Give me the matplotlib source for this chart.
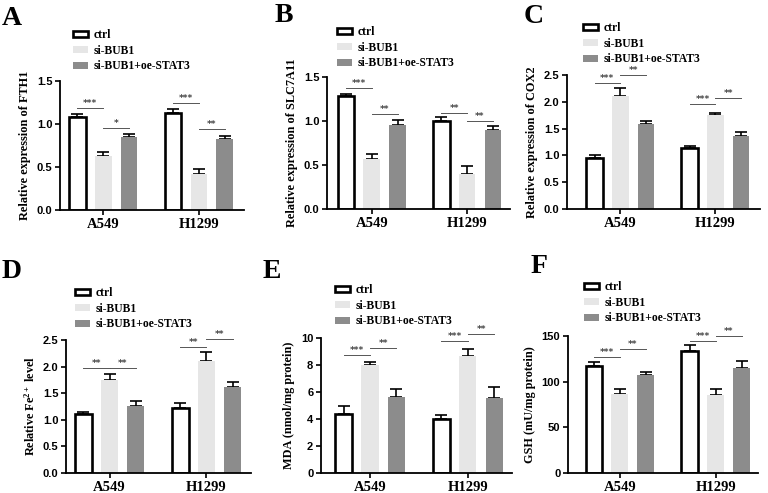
import matplotlib
matplotlib.use('Agg')
import matplotlib.pyplot as plt
import numpy as np

# data
cells = ['A549', 'H1299']
groups = ['ctrl', 'si-BUB1', 'si-BUB1+oe-STAT3']

fth1 = [[1.08, 0.63, 0.85], [1.13, 0.42, 0.83]]
fth1_err = [[0.04, 0.04, 0.03], [0.04, 0.06, 0.035]]
slc7a11 = [[1.28, 0.57, 0.96], [1.00, 0.40, 0.895]]
slc7a11_err = [[0.03, 0.05, 0.05], [0.04, 0.09, 0.045]]
cox2 = [[0.95, 2.10, 1.59], [1.13, 1.75, 1.36]]
cox2_err = [[0.06, 0.16, 0.05], [0.05, 0.04, 0.07]]
fe = [[1.10, 1.75, 1.26], [1.23, 2.10, 1.62]]
fe_err = [[0.05, 0.12, 0.09], [0.09, 0.17, 0.09]]
mda = [[4.40, 8.02, 5.63], [4.02, 8.67, 5.58]]
mda_err = [[0.56, 0.2, 0.57], [0.3, 0.54, 0.79]]
gsh = [[117, 86, 107], [134, 85, 115]]
gsh_err = [[5, 6.5, 4], [6.5, 7, 8]]

# significance: (cell index, bar i, bar j, height, label)
sig_A = [(0, 0, 1, 1.19, '***'), (0, 1, 2, 0.95, '*'), (1, 0, 1, 1.24, '***'), (1, 1, 2, 0.94, '**')]
sig_B = [(0, 0, 1, 1.37, '***'), (0, 1, 2, 1.08, '**'), (1, 0, 1, 1.09, '**'), (1, 1, 2, 1.00, '**')]
sig_C = [(0, 0, 1, 2.36, '***'), (0, 1, 2, 2.50, '**'), (1, 0, 1, 1.95, '***'), (1, 1, 2, 2.08, '**')]
sig_D = [(0, 0, 1, 1.97, '**'), (0, 1, 2, 1.97, '**'), (1, 0, 1, 2.36, '**'), (1, 1, 2, 2.51, '**')]
sig_E = [(0, 0, 1, 8.72, '***'), (0, 1, 2, 9.26, '**'), (1, 0, 1, 9.8, '***'), (1, 1, 2, 10.3, '**')]
sig_F = [(0, 0, 1, 126.6, '***'), (0, 1, 2, 135.4, '**'), (1, 0, 1, 144, '***'), (1, 1, 2, 150, '**')]

colors = ['white', '#e6e6e6', '#8c8c8c']
W, H = 768, 493

serif = 'Liberation Serif'
sans = 'Liberation Sans'
plt.rcParams['mathtext.fontset'] = 'custom'
plt.rcParams['mathtext.rm'] = 'Liberation Serif:bold'
plt.rcParams['mathtext.it'] = 'Liberation Serif:bold'
plt.rcParams['mathtext.bf'] = 'Liberation Serif:bold'

fig = plt.figure(figsize=(7.68, 4.93), dpi=100)

def draw_panel(letter, vals, errs, sigs, ylabel, yticks, box, xlim, leg_xy, let_xy):
    x0, x1, ytop, ybot = box
    ax = fig.add_axes([x0 / W, 1 - ybot / H, (x1 - x0) / W, (ybot - ytop) / H])
    vals = np.array(vals)
    errs = np.array(errs)
    xc = np.arange(len(cells))
    off = 0.27
    bw = 0.175
    for g in range(3):
        xs = xc + (g - 1) * off
        ax.bar(xs, vals[:, g], bw, color=colors[g],
               edgecolor='black' if g == 0 else colors[g],
               linewidth=1.9 if g == 0 else 0, label=groups[g], zorder=2)
        ax.errorbar(xs, vals[:, g], yerr=[np.zeros(2), errs[:, g]], fmt='none',
                    ecolor='black', elinewidth=1.2, capsize=4, capthick=1.2, zorder=1)
    for c, i, j, h, lab in sigs:
        xa = c + (i - 1) * off
        xb = c + (j - 1) * off
        ax.plot([xa, xb], [h, h], color='#555555', lw=0.7, clip_on=False)
        ax.text((xa + xb) / 2, h, lab, ha='center', va='bottom', fontsize=6.5,
                color='#444444', fontweight='bold', clip_on=False)
    ax.set_ylim(yticks[0], yticks[-1])
    ax.set_yticks(yticks)
    ax.set_xlim(*xlim)
    ax.set_xticks(xc)
    ax.set_xticklabels(cells, fontsize=10.5, fontweight='bold', family=serif)
    if isinstance(yticks[1], float):
        ax.yaxis.set_major_formatter(matplotlib.ticker.FormatStrFormatter('%.1f'))
    for t in ax.get_yticklabels():
        t.set_fontfamily(sans)
        t.set_fontweight('bold')
        t.set_fontsize(8)
    ax.set_ylabel(ylabel, fontsize=8.8, fontweight='bold', family=serif, labelpad=4)
    ax.spines['top'].set_visible(False)
    ax.spines['right'].set_visible(False)
    ax.spines['left'].set_linewidth(1.3)
    ax.spines['bottom'].set_linewidth(1.3)
    ax.tick_params(width=1.2, length=3.5, pad=2)
    ax.legend(loc='upper left', bbox_to_anchor=(leg_xy[0] / W, 1 - leg_xy[1] / H),
              bbox_transform=fig.transFigure, frameon=False, borderpad=0,
              borderaxespad=0, handlelength=1.3, handleheight=0.5,
              handletextpad=0.5, labelspacing=0.32,
              prop={'family': serif, 'weight': 'bold', 'size': 8.4})
    fig.text(let_xy[0] / W, 1 - let_xy[1] / H, letter, fontsize=20,
             fontweight='bold', family=serif, va='baseline')

draw_panel('A', fth1, fth1_err, sig_A, 'Relative expression of FTH1',
           [0.0, 0.5, 1.0, 1.5], (60, 244, 81, 210), (-0.45, 1.47), (73, 29), (2, 25))
draw_panel('B', slc7a11, slc7a11_err, sig_B, 'Relative expression of SLC7A11',
           [0.0, 0.5, 1.0, 1.5], (327, 510, 77, 209), (-0.47, 1.45), (337, 26), (275, 22))
draw_panel('C', cox2, cox2_err, sig_C, 'Relative expression of COX2',
           [0.0, 0.5, 1.0, 1.5, 2.0, 2.5], (567, 760, 75, 209), (-0.56, 1.47), (583, 22), (524, 23))
draw_panel('D', fe, fe_err, sig_D, 'Relative Fe$^{2+}$ level',
           [0.0, 0.5, 1.0, 1.5, 2.0, 2.5], (66, 251, 340, 473), (-0.45, 1.46), (75, 287), (2, 278))
draw_panel('E', mda, mda_err, sig_E, 'MDA (nmol/mg protein)',
           [0, 2, 4, 6, 8, 10], (321, 512, 338, 473), (-0.5, 1.45), (335, 284), (263, 278))
draw_panel('F', gsh, gsh_err, sig_F, 'GSH (mU/mg protein)',
           [0, 50, 100, 150], (568, 758, 336, 473), (-0.54, 1.44), (584, 281), (531, 273))

fig.savefig('out.png', dpi=100)
